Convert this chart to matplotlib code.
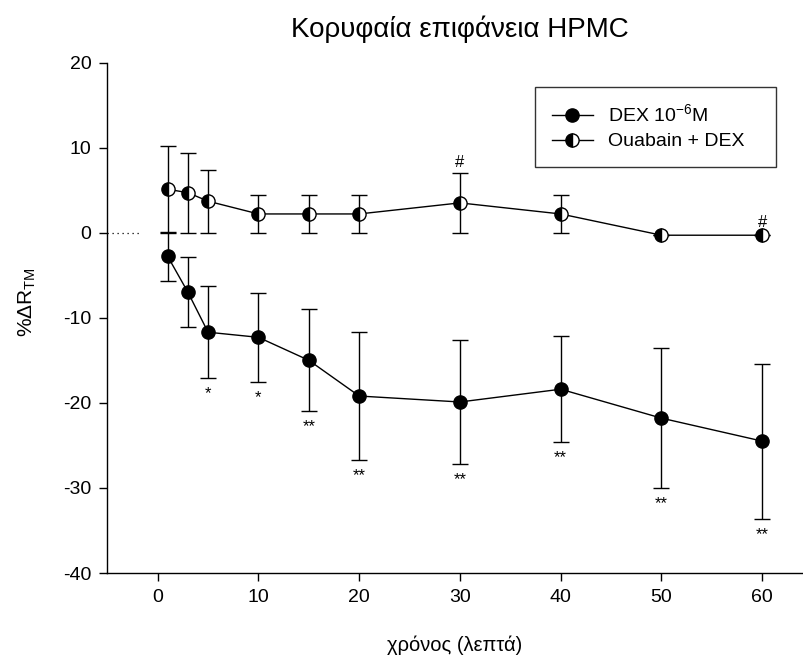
import matplotlib
matplotlib.use("Agg")
import matplotlib.pyplot as plt
from matplotlib.lines import Line2D

plt.rcParams['font.family'] = ['Liberation Sans', 'DejaVu Sans']
plt.rcParams['mathtext.default'] = 'regular'
plt.rcParams['axes.unicode_minus'] = False

# time points (minutes)
time_min = [1, 3, 5, 10, 15, 20, 30, 40, 50, 60]

# DEX 10^-6 M: mean %ΔR_TM and error
dex_mean = [-2.8, -7.0, -11.7, -12.3, -15.0, -19.2, -19.9, -18.4, -21.8, -24.5]
dex_err = [2.9, 4.1, 5.4, 5.2, 6.0, 7.5, 7.3, 6.2, 8.2, 9.1]
dex_marks = ['', '', '*', '*', '**', '**', '**', '**', '**', '**']

# Ouabain + DEX: mean %ΔR_TM and error
oua_mean = [5.1, 4.7, 3.7, 2.2, 2.2, 2.2, 3.5, 2.2, -0.3, -0.3]
oua_err = [5.1, 4.7, 3.7, 2.2, 2.2, 2.2, 3.5, 2.2, 0.0, 0.0]
oua_marks = ['', '', '', '', '', '', '#', '', '', '#']

x_ticks = [0, 10, 20, 30, 40, 50, 60]
y_ticks = [-40, -30, -20, -10, 0, 10, 20]

fig = plt.figure(figsize=(8.04, 6.56), dpi=100)
ax = fig.add_axes([107.3 / 804, 83 / 656, (802.5 - 107.3) / 804, (573 - 62.5) / 656])

common = dict(color='black', lw=1.0, elinewidth=1.0, capsize=5.5, capthick=1.0,
              markersize=9.5, markeredgecolor='black', markeredgewidth=1.0)

ax.errorbar(time_min, dex_mean, yerr=dex_err, fmt='-o', markerfacecolor='black',
            zorder=3, **common)
ax.errorbar(time_min, oua_mean, yerr=oua_err, fmt='-o', fillstyle='left',
            markerfacecolor='black', markerfacecoloralt='white', zorder=4, **common)

# dotted baseline segment at zero
ax.plot([-5, -1.8], [0, 0], color='black', lw=0.9, ls=(0, (1, 3)), zorder=2)

# significance marks
for x, m, e, s in zip(time_min, dex_mean, dex_err, dex_marks):
    if s:
        ax.annotate(s, (x, m - e), xytext=(0, -14.5), textcoords='offset points',
                    ha='center', va='baseline', fontsize=12)
for x, m, e, s in zip(time_min, oua_mean, oua_err, oua_marks):
    if s:
        off = 4.2 if e > 0 else 6.0
        ax.annotate(s, (x, m + e), xytext=(0, off), textcoords='offset points',
                    ha='center', va='baseline', fontsize=12)

ax.set_xlim(-5, 64)
ax.set_ylim(-40, 20)
ax.set_xticks(x_ticks)
ax.set_yticks(y_ticks)
ax.tick_params(direction='out', length=5.5, width=1.0, labelsize=14, pad=6)
for side in ('top', 'right'):
    ax.spines[side].set_visible(False)
for side in ('left', 'bottom'):
    ax.spines[side].set_linewidth(1.0)

ax.set_xlabel('χρόνος (λεπτά)', fontsize=14.5)
ax.xaxis.set_label_coords(0.5, -0.123)
ax.set_ylabel('%ΔR$_{TM}$', fontsize=15)
ax.yaxis.set_label_coords(-0.0997, 0.531)

fig.text(460 / 804, 1 - 36.7 / 656, 'Κορυφαία επιφάνεια HPMC', ha='center', va='baseline',
         fontsize=20)

handles = [
    Line2D([], [], color='black', lw=1.0, marker='o', markersize=9.5,
           markerfacecolor='black', markeredgecolor='black'),
    Line2D([], [], color='black', lw=1.0, marker='o', markersize=9.5, fillstyle='left',
           markerfacecolor='black', markerfacecoloralt='white', markeredgecolor='black'),
]
labels = ['DEX 10$^{-6}$M', 'Ouabain + DEX']
box_x0 = (535 - 107.3) / 695.2
box_w = (776 - 535) / 695.2
box_top = (573 - 87) / 510.5
leg = ax.legend(handles, labels, loc='upper left', mode='expand',
                bbox_to_anchor=(box_x0, box_top - 0.3, box_w, 0.3),
                fontsize=14, frameon=True, fancybox=False, edgecolor='black',
                handlelength=2.15, borderpad=0.85, labelspacing=0.38, handletextpad=0.75,
                borderaxespad=0)
leg.get_frame().set_linewidth(1.0)

fig.savefig('out.png', dpi=100)
